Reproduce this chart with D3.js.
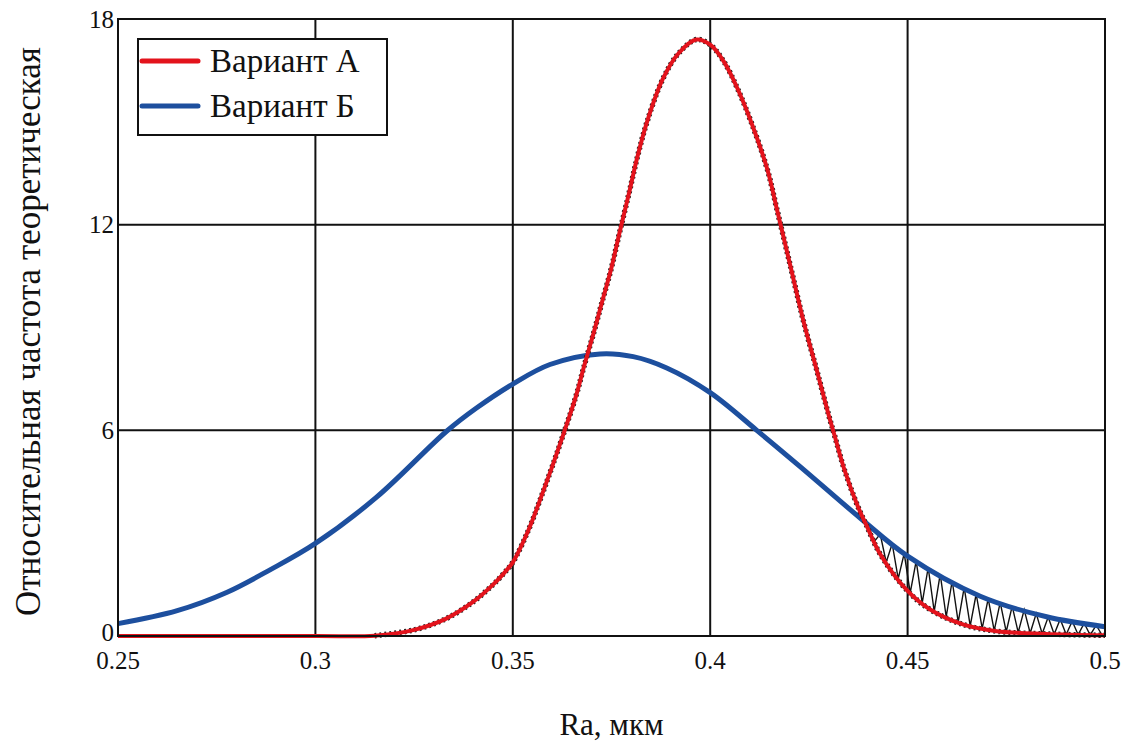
<!DOCTYPE html>
<html><head><meta charset="utf-8">
<script src="https://cdn.jsdelivr.net/npm/d3@7"></script>
<style>html,body{margin:0;padding:0;background:#fff;}svg{display:block;}</style>
</head><body>
<svg id="chart" width="1129" height="745"></svg>
<script>
// ---- data ----
const xTicks = [0.25, 0.3, 0.35, 0.4, 0.45, 0.5];
const xTickLabels = ["0.25", "0.3", "0.35", "0.4", "0.45", "0.5"];
const yTicks = [0, 6, 12, 18];
const yTickLabels = ["0", "6", "12", "18"];
const seriesNames = ["Вариант А", "Вариант Б"];

const redX = [0.25,0.30,0.315,0.325,0.333,0.34,0.345,0.3475,0.35,0.354,0.357,0.36,0.363,0.366,0.368,0.3705,0.3725,0.375,0.377,0.3795,0.3815,0.384,0.388,0.392,0.3965,0.40,0.4035,0.407,0.411,0.4145,0.417,0.4203,0.4237,0.427,0.430,0.4315,0.434,0.4375,0.4395,0.443,0.4497,0.4556,0.4642,0.4726,0.485,0.50];
const redY = [0,0,0.01,0.18,0.5,1.0,1.5,1.8,2.15,3.1,4.0,4.95,5.95,7.0,7.85,8.85,9.7,10.75,11.75,12.95,13.95,15.0,16.25,17.0,17.4,17.25,16.75,15.95,14.8,13.6,12.4,10.8,9.15,7.75,6.45,5.85,4.85,3.75,3.25,2.4,1.35,0.78,0.33,0.14,0.06,0.02];

const blueX = [0.25,0.265,0.2775,0.2885,0.30,0.3155,0.3333,0.3408,0.35,0.3594,0.3721,0.3805,0.389,0.40,0.4118,0.4227,0.4379,0.45,0.4684,0.4852,0.5];
const blueY = [0.36,0.74,1.27,1.93,2.70,4.05,5.98,6.65,7.35,7.92,8.23,8.15,7.82,7.1,6.0,4.95,3.45,2.33,1.16,0.56,0.27];

const hatchStart = 0.4385;   // where the curves cross
const hatchEnd = 0.5;

// ---- layout ----
const L = 118, T = 19, W = 987, H = 617;
const svg = d3.select("#chart");
const x = d3.scaleLinear().domain([0.25, 0.5]).range([L, L + W]);
const y = d3.scaleLinear().domain([0, 18]).range([T + H, T]);
const serif = "'Liberation Serif','Times New Roman',serif";
const RED = "#e3131c", BLUE = "#1d4f9e";

// grid
const g = svg.append("g");
g.selectAll(".vg").data(xTicks).enter().append("line")
  .attr("x1", d => x(d)).attr("x2", d => x(d)).attr("y1", T).attr("y2", T + H)
  .attr("stroke", "#111").attr("stroke-width", 2);
g.selectAll(".hg").data(yTicks).enter().append("line")
  .attr("x1", L).attr("x2", L + W).attr("y1", d => y(d)).attr("y2", d => y(d))
  .attr("stroke", "#111").attr("stroke-width", 2);

// tick labels
svg.selectAll(".xl").data(xTicks).enter().append("text")
  .attr("x", d => x(d)).attr("y", T + H + 33)
  .attr("text-anchor", "middle").attr("font-family", serif).attr("font-size", 25)
  .attr("fill", "#111").text((d, i) => xTickLabels[i]);
svg.selectAll(".yl").data(yTicks).enter().append("text")
  .attr("x", L - 4).attr("y", d => y(d)).attr("dy", d => d === 0 ? "0.2em" : "0.35em")
  .attr("text-anchor", "end").attr("font-family", serif).attr("font-size", 25)
  .attr("fill", "#111").text((d, i) => yTickLabels[i]);

// axis titles
svg.append("text").attr("x", x(0.375)).attr("y", 735)
  .attr("text-anchor", "middle").attr("font-family", serif).attr("font-size", 31)
  .attr("fill", "#111").text("Ra, мкм");
svg.append("text").attr("transform", "translate(40," + (T + H / 2 + 4) + ") rotate(-90)")
  .attr("text-anchor", "middle").attr("font-family", serif).attr("font-size", 35)
  .attr("fill", "#111").text("Относительная частота теоретическая");

// hatch between curves (zigzag)
function interp(xs, ys, v) {
  const i = Math.max(1, Math.min(xs.length - 1, d3.bisectLeft(xs, v)));
  const t = (v - xs[i - 1]) / (xs[i] - xs[i - 1]);
  return ys[i - 1] + t * (ys[i] - ys[i - 1]);
}
const period = 12; // px
const hatchPts = [];
let k = 0;
for (let px = x(hatchStart); px <= x(hatchEnd); px += period / 2, k++) {
  const v = x.invert(px);
  hatchPts.push([px, y(k % 2 === 0 ? interp(redX, redY, v) : interp(blueX, blueY, v))]);
}
svg.append("path").attr("d", d3.line()(hatchPts))
  .attr("fill", "none").attr("stroke", "#111").attr("stroke-width", 1.4);

// curves
const redPts = redX.map((v, i) => [v, redY[i]]);
const bluePts = blueX.map((v, i) => [v, blueY[i]]);
const line = d3.line().x(d => x(d[0])).y(d => Math.min(y(0), y(d[1])))
  .curve(d3.curveCatmullRom.alpha(0.5));

svg.append("path").attr("d", line(bluePts))
  .attr("fill", "none").attr("stroke", BLUE).attr("stroke-width", 5).attr("stroke-linejoin", "round");

svg.append("path").attr("d", line(redPts.filter(d => d[0] >= 0.315)))
  .attr("fill", "none").attr("stroke", "#222").attr("stroke-width", 5.5)
  .attr("stroke-dasharray", "2,3").attr("stroke-linejoin", "round");
svg.append("path").attr("d", line(redPts))
  .attr("fill", "none").attr("stroke", RED).attr("stroke-width", 4).attr("stroke-linejoin", "round");

// plot border
svg.append("rect").attr("x", L).attr("y", T).attr("width", W).attr("height", H)
  .attr("fill", "none").attr("stroke", "#111").attr("stroke-width", 2);

// legend
const lg = svg.append("g");
lg.append("rect").attr("x", 138).attr("y", 39).attr("width", 249).attr("height", 96)
  .attr("fill", "#fff").attr("stroke", "#111").attr("stroke-width", 2);
const legColors = [RED, BLUE];
seriesNames.forEach((name, i) => {
  const cy = 61 + i * 45;
  lg.append("line").attr("x1", 142).attr("x2", 198).attr("y1", cy).attr("y2", cy)
    .attr("stroke", legColors[i]).attr("stroke-width", 5).attr("stroke-linecap", "round");
  lg.append("text").attr("x", 210).attr("y", cy + 11)
    .attr("font-family", serif).attr("font-size", 33).attr("fill", "#111").text(name);
});
</script>
</body></html>
